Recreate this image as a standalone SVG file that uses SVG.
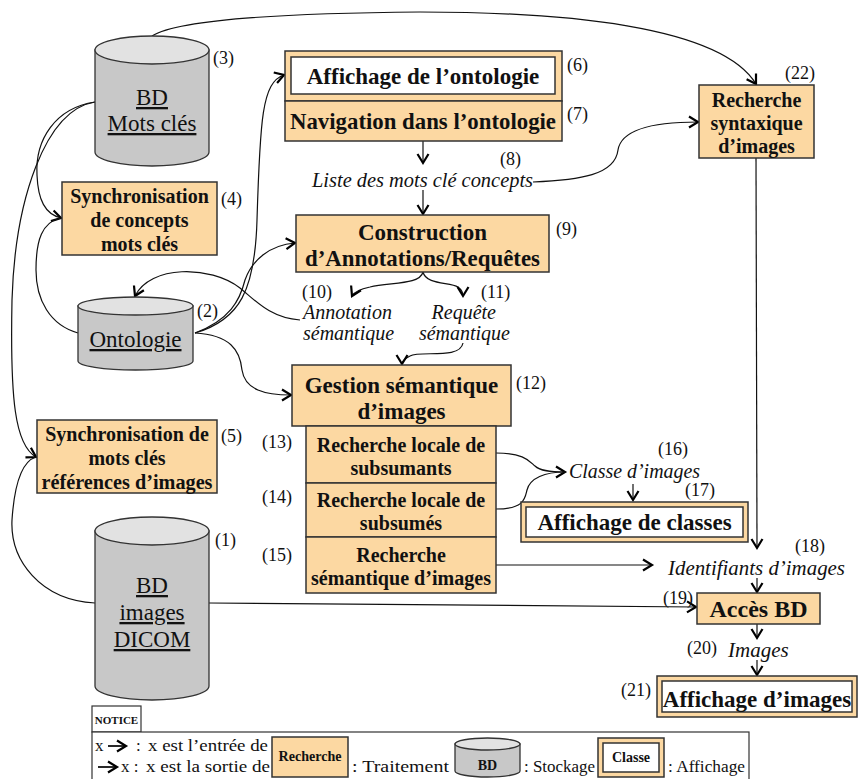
<svg xmlns="http://www.w3.org/2000/svg" width="859" height="779" viewBox="0 0 859 779">
<defs>
<marker id="ah" markerUnits="userSpaceOnUse" markerWidth="14" markerHeight="14" refX="9" refY="5.5" orient="auto" overflow="visible">
<path d="M0,0 L9,5.5 L0,11" fill="none" stroke="#000" stroke-width="2.2"/>
</marker>
<style>
.proc{fill:#FCD8A2;stroke:#333;stroke-width:1.5}
.white{fill:#fff;stroke:#333;stroke-width:1.5}
.cylb{fill:#C8C8C8;stroke:#333;stroke-width:1.3}
.cylt{fill:#E2E2E2;stroke:#333;stroke-width:1.3}
text{font-family:'Liberation Serif','Times New Roman','DejaVu Serif',serif}
.b{font-weight:bold;fill:#111;text-anchor:middle}
.r{fill:#111}
.it{font-style:italic;fill:#111}
.u{text-decoration:underline}
.num{font-size:18px;fill:#111}
.c{fill:none;stroke:#111;stroke-width:1.2}
.ca{fill:none;stroke:#111;stroke-width:1.2;marker-end:url(#ah)}
</style>
</defs>
<rect width="859" height="779" fill="#fff"/>

<g id="connectors">
<path class="ca" d="M152,36 C180,18 300,13 420,12 C560,12 720,25 756,84"/>
<path class="ca" d="M533,182 C580,180 615,175 618,150 C622,125 670,122 698,122"/>
<path class="ca" d="M95,102 C55,108 35,140 37,175 C38,200 45,214 61,218"/>
<path class="ca" d="M95,102 C45,110 15,200 12,300 C10,400 15,445 36,457"/>
<path class="c" d="M78,333 C50,325 36,300 36,270 C36,240 42,222 61,218"/>
<path class="c" d="M95,603 C40,600 10,560 12,520 C14,490 20,462 36,457"/>
<path class="ca" d="M195,333 C240,320 255,290 257,220 C260,120 262,82 284,75"/>
<path class="ca" d="M195,333 C230,320 240,300 245,280 C252,260 270,245 295,243"/>
<path class="ca" d="M195,333 C230,335 240,350 242,370 C245,390 265,395 291,395"/>
<path class="ca" d="M300,320 C270,318 255,300 240,288 C210,265 150,265 135,296"/>
<path class="ca" d="M423,141 L423,163"/>
<path class="ca" d="M423,190 L423,214"/>
<path class="ca" d="M423,272 C420,285 390,282 370,287 C360,289 354,292 352,296"/>
<path class="ca" d="M423,272 C426,285 450,282 458,287 C462,290 463,292 463,296"/>
<path class="ca" d="M463,343 C460,360 420,350 410,356 C404,359 402,361 402,364"/>
<path class="ca" d="M496,453 C525,453 530,462 535,466 C540,471 550,472 565,472"/>
<path class="c" d="M496,509 C525,509 525,498 527,490 C530,478 545,472 565,472"/>
<path class="ca" d="M633,484 L633,500"/>
<path class="ca" d="M496,565 L652,565"/>
<path class="ca" d="M756,158 L757,548"/>
<path class="ca" d="M757,578 L757,592"/>
<path class="ca" d="M209,603 L696,607"/>
<path class="ca" d="M757,624 L757,638"/>
<path class="ca" d="M757,660 L757,675"/>
</g>

<g id="n3">
<path class="cylb" d="M95,50 L95,152 A57,14 0 0 0 209,152 L209,50 Z"/>
<ellipse class="cylt" cx="152" cy="50" rx="57" ry="14"/>
<text class="r u" x="152" y="105" font-size="23" text-anchor="middle">BD</text>
<text class="r u" x="152" y="131" font-size="23" text-anchor="middle">Mots clés</text>
<text class="num" x="213" y="64">(3)</text>
</g>

<g id="n4">
<rect class="proc" x="62" y="182" width="155" height="73"/>
<text class="b" x="139.5" y="203" font-size="20">Synchronisation</text>
<text class="b" x="139.5" y="227" font-size="20">de concepts</text>
<text class="b" x="139.5" y="251" font-size="20">mots clés</text>
<text class="num" x="221" y="205">(4)</text>
</g>

<g id="n2">
<path class="cylb" d="M78,306 L78,361 A57.5,9 0 0 0 193,361 L193,306 Z"/>
<ellipse class="cylt" cx="135.5" cy="306" rx="57.5" ry="9"/>
<text class="r u" x="135.5" y="347" font-size="23" text-anchor="middle">Ontologie</text>
<text class="num" x="197" y="317">(2)</text>
</g>

<g id="n5">
<rect class="proc" x="37" y="420" width="180" height="73"/>
<text class="b" x="127" y="441" font-size="20">Synchronisation de</text>
<text class="b" x="127" y="465" font-size="20">mots clés</text>
<text class="b" x="127" y="489" font-size="20" textLength="171" lengthAdjust="spacingAndGlyphs">références d’images</text>
<text class="num" x="221" y="442">(5)</text>
</g>

<g id="n1">
<path class="cylb" d="M95,531 L95,686 A57,14 0 0 0 209,686 L209,531 Z"/>
<ellipse class="cylt" cx="152" cy="531" rx="57" ry="14"/>
<text class="r u" x="152" y="593" font-size="23" text-anchor="middle">BD</text>
<text class="r u" x="152" y="620" font-size="23" text-anchor="middle">images</text>
<text class="r u" x="152" y="647" font-size="23" text-anchor="middle">DICOM</text>
<text class="num" x="215" y="546">(1)</text>
</g>

<g id="n6">
<rect class="proc" x="285" y="51" width="277" height="50"/>
<rect class="white" x="291" y="57" width="264" height="37"/>
<text class="b" x="423" y="84" font-size="23">Affichage de l’ontologie</text>
<text class="num" x="567" y="71">(6)</text>
</g>

<g id="n7">
<rect class="proc" x="285" y="101" width="277" height="40"/>
<text class="b" x="423" y="129" font-size="23" textLength="266" lengthAdjust="spacingAndGlyphs">Navigation dans l’ontologie</text>
<text class="num" x="567" y="120">(7)</text>
</g>

<g id="n8">
<text class="it" x="312" y="187" font-size="20" textLength="221" lengthAdjust="spacingAndGlyphs">Liste des mots clé concepts</text>
<text class="num" x="500" y="165">(8)</text>
</g>

<g id="n22">
<rect class="proc" x="699" y="85" width="115" height="73"/>
<text class="b" x="756.5" y="107" font-size="20">Recherche</text>
<text class="b" x="756.5" y="130" font-size="20">syntaxique</text>
<text class="b" x="756.5" y="153" font-size="20">d’images</text>
<text class="num" x="785" y="79">(22)</text>
</g>

<g id="n9">
<rect class="proc" x="296" y="215" width="253" height="57"/>
<text class="b" x="422.5" y="240" font-size="23">Construction</text>
<text class="b" x="422.5" y="266" font-size="23" textLength="235" lengthAdjust="spacingAndGlyphs">d’Annotations/Requêtes</text>
<text class="num" x="556" y="235">(9)</text>
</g>

<g id="n10">
<text class="num" x="302" y="298">(10)</text>
<text class="it" x="303" y="319" font-size="20">Annotation</text>
<text class="it" x="303" y="340" font-size="20">sémantique</text>
</g>

<g id="n11">
<text class="num" x="481" y="298">(11)</text>
<text class="it" x="496" y="319" font-size="20" text-anchor="end">Requête</text>
<text class="it" x="510" y="340" font-size="20" text-anchor="end">sémantique</text>
</g>

<g id="n12">
<rect class="proc" x="292" y="365" width="219" height="61"/>
<text class="b" x="401.5" y="393" font-size="23">Gestion sémantique</text>
<text class="b" x="401.5" y="419" font-size="23">d’images</text>
<text class="num" x="516" y="389">(12)</text>
</g>

<g id="n13">
<rect class="proc" x="306" y="426" width="190" height="57"/>
<text class="b" x="401" y="452" font-size="20">Recherche locale de</text>
<text class="b" x="401" y="475" font-size="20">subsumants</text>
<text class="num" x="262" y="448">(13)</text>
</g>

<g id="n14">
<rect class="proc" x="306" y="483" width="190" height="54"/>
<text class="b" x="401" y="507" font-size="20">Recherche locale de</text>
<text class="b" x="401" y="530" font-size="20">subsumés</text>
<text class="num" x="262" y="503">(14)</text>
</g>

<g id="n15">
<rect class="proc" x="306" y="537" width="190" height="56"/>
<text class="b" x="401" y="562" font-size="20">Recherche</text>
<text class="b" x="401" y="585" font-size="20" textLength="180" lengthAdjust="spacingAndGlyphs">sémantique d’images</text>
<text class="num" x="262" y="561">(15)</text>
</g>

<g id="n16">
<text class="it" x="569" y="478" font-size="20" textLength="131" lengthAdjust="spacingAndGlyphs">Classe d’images</text>
<text class="num" x="658" y="455">(16)</text>
</g>

<g id="n17">
<rect class="proc" x="521" y="502" width="227" height="40"/>
<rect class="white" x="526" y="507" width="217" height="30"/>
<text class="b" x="634.5" y="530" font-size="23">Affichage de classes</text>
<text class="num" x="685" y="496">(17)</text>
</g>

<g id="n18">
<text class="it" x="668" y="575" font-size="21" textLength="177" lengthAdjust="spacingAndGlyphs">Identifiants d’images</text>
<text class="num" x="795" y="552">(18)</text>
</g>

<g id="n19">
<rect class="proc" x="697" y="593" width="123" height="31"/>
<text class="b" x="758.5" y="617" font-size="24">Accès BD</text>
<text class="num" x="663" y="604">(19)</text>
</g>

<g id="n20">
<text class="num" x="687" y="654">(20)</text>
<text class="it" x="728" y="657" font-size="21">Images</text>
</g>

<g id="n21">
<rect class="proc" x="657" y="676" width="200" height="41"/>
<rect class="white" x="662" y="681" width="190" height="31"/>
<text class="b" x="757" y="707" font-size="23">Affichage d’images</text>
<text class="num" x="621" y="696">(21)</text>
</g>

<g id="legend">
<rect x="92" y="706" width="49" height="26" fill="#fff" stroke="#333" stroke-width="1.2"/>
<text class="b" x="116.5" y="724" font-size="11">NOTICE</text>
<rect x="92" y="732" width="657" height="50" fill="#fff" stroke="#333" stroke-width="1.2"/>
<text class="r" x="95" y="751" font-size="17">x</text>
<path d="M108,746 L126,746" stroke="#111" stroke-width="1.8" fill="none" marker-end="url(#ah)"/>
<text class="r" x="136" y="751" font-size="17">:</text>
<text class="r" x="148" y="751" font-size="17" textLength="120" lengthAdjust="spacingAndGlyphs">x est l’entrée de</text>
<path d="M98,767 L117,767" stroke="#111" stroke-width="1.8" fill="none" marker-end="url(#ah)"/>
<text class="r" x="121" y="772" font-size="17">x :</text>
<text class="r" x="146" y="772" font-size="17" textLength="124" lengthAdjust="spacingAndGlyphs">x est la sortie de</text>
<rect class="proc" x="272" y="737" width="76" height="40"/>
<text class="b" x="310" y="761" font-size="14" textLength="63" lengthAdjust="spacingAndGlyphs">Recherche</text>
<text class="r" x="352" y="772" font-size="17" textLength="97" lengthAdjust="spacingAndGlyphs">: Traitement</text>
<path class="cylb" d="M455,744 L455,771 A32.5,6 0 0 0 520,771 L520,744 Z"/>
<ellipse class="cylt" cx="487.5" cy="744" rx="32.5" ry="6"/>
<text class="b" x="487.5" y="770" font-size="14">BD</text>
<text class="r" x="524" y="772" font-size="17" textLength="71" lengthAdjust="spacingAndGlyphs">: Stockage</text>
<rect class="proc" x="598" y="738" width="66" height="39"/>
<rect class="white" x="603" y="743" width="56" height="29"/>
<text class="b" x="631" y="762" font-size="14">Classe</text>
<text class="r" x="668" y="772" font-size="17" textLength="77" lengthAdjust="spacingAndGlyphs">: Affichage</text>
</g>
</svg>
